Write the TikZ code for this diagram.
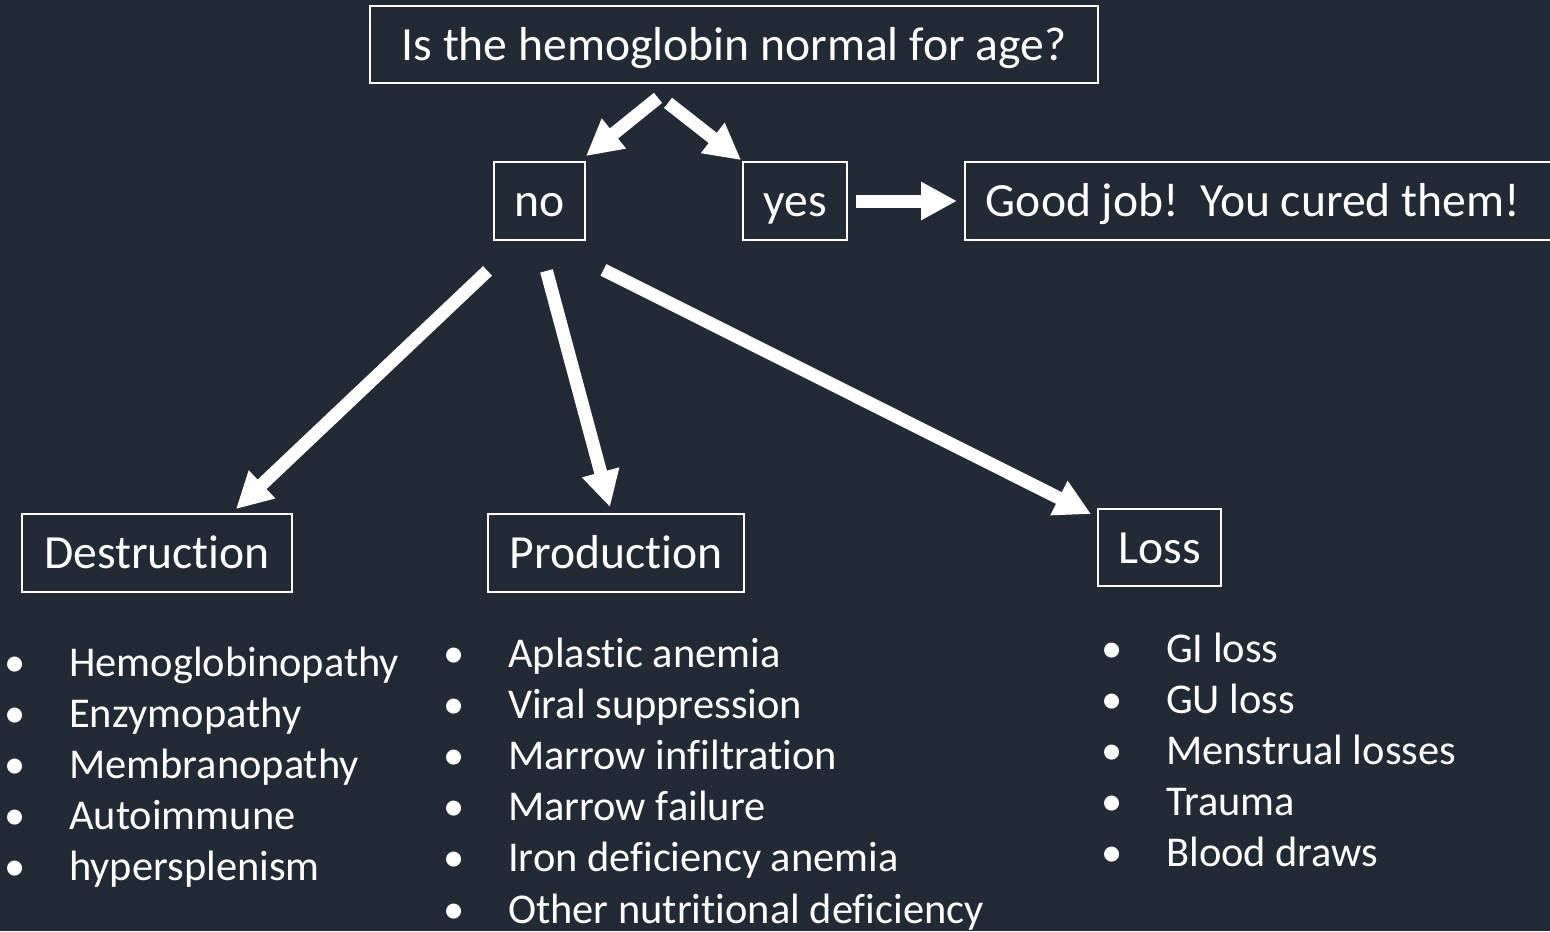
\documentclass[tikz,border=0pt]{standalone}
\usepackage{fontspec}
\setmainfont[Ligatures=NoCommon]{Carlito}
\usetikzlibrary{arrows.meta,calc}
\definecolor{slatebg}{HTML}{222A35}
\newcommand{\itm}{\makebox[0pt]{\textbullet}\hspace{54bp}}

\begin{document}
\begin{tikzpicture}[x=1bp, y=-1bp, every node/.style={text=white, inner sep=0pt},
    box/.style={draw=white, line width=1.8bp, font=\fontsize{47.8}{57}\selectfont,
        text height=43bp, text depth=12bp},
    items/.style={anchor=base west, font=\fontsize{42.6}{51.4}\selectfont},
    fat/.style={white, line width=13bp, -{Triangle[width=36bp,length=36bp]}}]

\fill[slatebg] (0,0) rectangle (1550,931);
\useasboundingbox (0,0) rectangle (1550,931);
\clip (0,0) rectangle (1550,931);

% question and answers
\node[box, minimum width=728bp, minimum height=77bp] (q) at (734,44.5) {Is the hemoglobin normal for age?};
\node[box, minimum width=91bp, minimum height=78bp] (no) at (539.5,201) {no};
\node[box, minimum width=104bp, minimum height=78bp] (yes) at (795,201) {yes};
\node[box, anchor=west, minimum height=78bp, text width=600bp, inner xsep=21bp, align=flush left] (good) at (964,201) {Good job!\ \ You cured them!};

% causes
\node[box, minimum width=270bp, minimum height=78bp] (dest) at (157,553) {Destruction};
\node[box, minimum width=256bp, minimum height=78bp] (prod) at (616,553) {Production};
\node[box, minimum width=123bp, minimum height=77bp] (loss) at (1159.5,547.5) {Loss};

\node[items] (dlist) at (15,676) {\begin{tabular}[t]{@{}l@{}}
    \itm Hemoglobinopathy\\ \itm Enzymopathy\\ \itm Membranopathy\\
    \itm Autoimmune\\ \itm hypersplenism\end{tabular}};
\node[items] (plist) at (454,667) {\begin{tabular}[t]{@{}l@{}}
    \itm Aplastic anemia\\ \itm Viral suppression\\ \itm Marrow infiltration\\
    \itm Marrow failure\\ \itm Iron deficiency anemia\\ \itm Other nutritional deficiency\end{tabular}};
\node[items] (llist) at (1112,662) {\begin{tabular}[t]{@{}l@{}}
    \itm GI loss\\ \itm GU loss\\ \itm Menstrual losses\\
    \itm Trauma\\ \itm Blood draws\end{tabular}};

% arrows
\draw[fat] ($(q.south)+(-76,14)$) -- ($(no.north east)+(0,-5)$);
\draw[fat] ($(q.south)+(-66,19)$) -- ($(yes.north west)+(-1,-1)$);
\draw[fat] ($(yes.east)+(8,0)$) -- ($(good.west)+(-7,0)$);
\draw[fat] ($(no.south)+(-52,30)$) -- ($(dest.north east)+(-57,-4)$);
\draw[fat] ($(no.south)+(7,30)$) -- ($(prod.north)+(-6,-6)$);
\draw[fat] ($(no.south)+(64,29)$) -- ($(loss.north west)+(-6,6)$);

\end{tikzpicture}
\end{document}
